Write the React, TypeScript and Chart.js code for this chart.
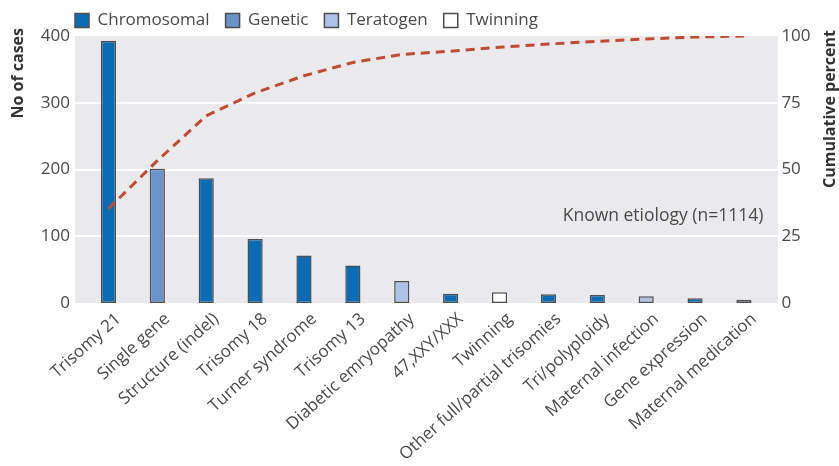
import React, { useEffect, useRef } from "react";
import { Chart, registerables } from "chart.js";
Chart.register(...registerables);

const categories = [
  "Trisomy 21",
  "Single gene",
  "Structure (indel)",
  "Trisomy 18",
  "Turner syndrome",
  "Trisomy 13",
  "Diabetic emryopathy",
  "47,XXY/XXX",
  "Twinning",
  "Other full/partial trisomies",
  "Tri/polyploidy",
  "Maternal infection",
  "Gene expression",
  "Maternal medication",
];
const cases = [393, 201, 187, 96, 71, 56, 33, 14, 16, 13, 12, 10, 7, 5];
const groups = [
  "Chromosomal", "Genetic", "Chromosomal", "Chromosomal", "Chromosomal", "Chromosomal",
  "Teratogen", "Chromosomal", "Twinning", "Chromosomal", "Chromosomal", "Teratogen",
  "Chromosomal", "Teratogen",
];
const cumulativePercent = [35.3, 53.3, 70.1, 78.7, 85.1, 90.1, 93.1, 94.3, 95.8, 97.0, 98.0, 98.9, 99.6, 100];
const legendNames = ["Chromosomal", "Genetic", "Teratogen", "Twinning"];
const groupColors: Record<string, string> = {
  Chromosomal: "#0b6cb6",
  Genetic: "#6a93cc",
  Teratogen: "#adc2e4",
  Twinning: "#ffffff",
};
const leftTicks = [0, 100, 200, 300, 400];
const rightTicks = [0, 25, 50, 75, 100];
const annotationText = "Known etiology (n=1114)";

const FONT = "'Open Sans', 'Noto Sans', sans-serif";
const TXT = "#4a4a4a";

export default function App() {
  const ref = useRef<HTMLCanvasElement | null>(null);
  useEffect(() => {
    if (!ref.current) return;
    const decor = {
      id: "decor",
      beforeDraw(chart: any) {
        if (chart.legend) {
          chart.legend.left = 59;
          chart.legend.top = -4;
        }
      },
      beforeDatasetsDraw(chart: any) {
        const { ctx, chartArea } = chart;
        const y = chart.scales.y;
        ctx.save();
        ctx.fillStyle = "#eaeaed";
        const l = chartArea.left - 9;
        const r = chartArea.right + 9.5;
        ctx.fillRect(l, chartArea.top, r - l, chartArea.bottom - chartArea.top);
        ctx.strokeStyle = "#ffffff";
        ctx.lineWidth = 2;
        leftTicks.forEach((t) => {
          if (t === 0 || t === 400) return;
          const py = Math.round(y.getPixelForValue(t));
          ctx.beginPath();
          ctx.moveTo(l, py);
          ctx.lineTo(r, py);
          ctx.stroke();
        });
        ctx.fillStyle = TXT;
        ctx.font = `17.5px ${FONT}`;
        ctx.textAlign = "right";
        ctx.textBaseline = "middle";
        ctx.fillText(annotationText, chartArea.right - 5, y.getPixelForValue(130));
        ctx.restore();
      },
      afterDraw(chart: any) {
        const { ctx } = chart;
        ctx.save();
        ctx.fillStyle = "#333333";
        ctx.font = `bold 16px ${FONT}`;
        ctx.textAlign = "right";
        ctx.textBaseline = "middle";
        ctx.translate(18, 28);
        ctx.rotate(-Math.PI / 2);
        ctx.fillText("No of cases", 0, 0);
        ctx.restore();
        ctx.save();
        ctx.fillStyle = "#333333";
        ctx.font = `bold 16px ${FONT}`;
        ctx.textAlign = "right";
        ctx.textBaseline = "middle";
        ctx.translate(830, 30);
        ctx.rotate(-Math.PI / 2);
        ctx.fillText("Cumulative percent", 0, 0);
        ctx.restore();
      },
    };

    const chart = new Chart(ref.current, {
      type: "bar",
      data: {
        labels: categories,
        datasets: [
          {
            type: "line",
            label: "Cumulative percent",
            data: cumulativePercent,
            yAxisID: "y1",
            borderColor: "#c24a30",
            borderWidth: 3,
            borderDash: [9, 6],
            pointRadius: 0,
            tension: 0,
            fill: false,
            order: 0,
          } as any,
          {
            type: "bar",
            label: "No of cases",
            data: cases,
            yAxisID: "y",
            backgroundColor: groups.map((g) => groupColors[g]),
            borderColor: "#4d4d4d",
            borderWidth: 1.5,
            borderSkipped: false,
            barPercentage: 0.31,
            categoryPercentage: 1,
            order: 1,
          } as any,
        ],
      },
      options: {
        animation: false,
        responsive: false,
        devicePixelRatio: 1,
        layout: { padding: 0 },
        plugins: {
          tooltip: { enabled: false },
          legend: {
            position: "top",
            align: "start",
            maxHeight: 36,
            onClick: () => {},
            labels: {
              color: TXT,
              font: { family: FONT, size: 17 },
              boxWidth: 14,
              boxHeight: 14,
              padding: 16,
              generateLabels: () =>
                legendNames.map((n) => ({
                  text: n,
                  fillStyle: groupColors[n],
                  strokeStyle: "#4d4d4d",
                  lineWidth: 1.5,
                  hidden: false,
                  fontColor: TXT,
                })) as any,
            },
          },
        },
        scales: {
          x: {
            offset: true,
            grid: { display: false, drawTicks: false },
            border: { display: false },
            ticks: {
              color: TXT,
              font: { family: FONT, size: 17 },
              autoSkip: false,
              maxRotation: 42,
              minRotation: 42,
              padding: 6,
              labelOffset: 10,
            },
            afterFit: (s: any) => {
              s.height = 163;
            },
          },
          y: {
            position: "left",
            min: 0,
            max: 400,
            grid: { display: false, drawTicks: false },
            border: { display: false },
            ticks: {
              stepSize: 100,
              color: TXT,
              font: { family: FONT, size: 17 },
              padding: 14,
            },
            afterFit: (s: any) => {
              s.width = 84;
            },
          },
          y1: {
            position: "right",
            min: 0,
            max: 100,
            grid: { display: false, drawTicks: false },
            border: { display: false },
            ticks: {
              stepSize: 25,
              color: TXT,
              font: { family: FONT, size: 17 },
              padding: 13,
            },
            afterFit: (s: any) => {
              s.width = 70.6;
            },
          },
        },
      },
      plugins: [decor],
    });
    return () => chart.destroy();
  }, []);

  return (
    <div style={{ position: "fixed", left: 0, top: 0, width: 839, height: 466, background: "#fff" }}>
      <canvas ref={ref} width={839} height={466} />
    </div>
  );
}
